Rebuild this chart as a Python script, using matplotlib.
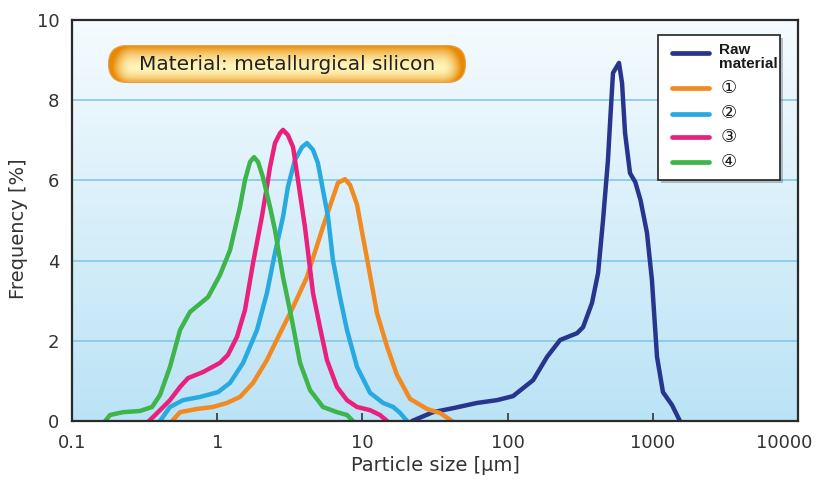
import numpy as np
import matplotlib
matplotlib.use("Agg")
import matplotlib.pyplot as plt
from matplotlib.patches import FancyBboxPatch, Rectangle
from matplotlib.lines import Line2D
from matplotlib.transforms import ScaledTranslation

# ---------------- data ----------------
raw_x = [22.0, 30.6, 42.1, 61.5, 84.5, 109, 150, 187, 230, 301, 331, 381, 420, 454,
         491, 507, 532, 585, 614, 644, 697, 757, 823, 912, 986, 1069, 1175, 1355, 1538]
raw_y = [0.0, 0.22, 0.32, 0.45, 0.52, 0.62, 1.02, 1.6, 2.02, 2.19, 2.34, 2.94, 3.69, 5.0,
         6.5, 7.4, 8.68, 8.93, 8.43, 7.18, 6.18, 5.96, 5.51, 4.69, 3.52, 1.6, 0.72, 0.4, 0.0]

s1_x = [0.489, 0.555, 0.726, 0.935, 1.167, 1.436, 1.766, 2.20, 2.71, 3.33, 4.15, 5.35,
        6.18, 6.79, 7.59, 8.22, 9.18, 9.9, 10.9, 12.6, 14.8, 17.3, 21.3, 27.9, 34.2, 41.4]
s1_y = [0.0, 0.22, 0.30, 0.35, 0.45, 0.60, 0.95, 1.52, 2.19, 2.84, 3.59, 4.84,
        5.51, 5.94, 6.03, 5.89, 5.40, 4.75, 3.94, 2.69, 1.85, 1.15, 0.55, 0.30, 0.20, 0.0]

s2_x = [0.404, 0.473, 0.581, 0.762, 1.013, 1.225, 1.508, 1.88, 2.20, 2.50, 2.84, 3.07,
        3.43, 3.84, 4.15, 4.57, 4.94, 5.35, 5.80, 6.27, 7.01, 7.83, 9.18, 11.3, 13.9,
        16.3, 18.2, 20.3]
s2_y = [0.0, 0.35, 0.52, 0.60, 0.72, 0.95, 1.45, 2.27, 3.19, 4.19, 5.09, 5.84,
        6.51, 6.83, 6.93, 6.76, 6.43, 5.76, 5.09, 4.01, 3.09, 2.27, 1.35, 0.70, 0.45,
        0.35, 0.20, 0.0]

s3_x = [0.339, 0.404, 0.473, 0.555, 0.630, 0.798, 1.045, 1.186, 1.369, 1.554, 1.766, 2.03,
        2.20, 2.31, 2.50, 2.71, 2.84, 3.07, 3.33, 3.60, 4.02, 4.57, 5.10, 5.70, 6.68,
        7.83, 9.18, 11.3, 13.2, 14.8]
s3_y = [0.0, 0.27, 0.52, 0.85, 1.07, 1.22, 1.45, 1.65, 2.10, 2.77, 3.94, 5.09,
        5.84, 6.33, 6.93, 7.18, 7.26, 7.13, 6.83, 6.01, 4.84, 3.19, 2.34, 1.52, 0.85,
        0.52, 0.35, 0.27, 0.15, 0.0]

s4_x = [0.169, 0.183, 0.224, 0.294, 0.356, 0.404, 0.473, 0.555, 0.650, 0.865, 1.045, 1.225,
        1.436, 1.554, 1.683, 1.792, 1.911, 2.066, 2.31, 2.50, 2.84, 3.27, 3.72, 4.36,
        5.35, 6.68, 7.83, 8.61]
s4_y = [0.0, 0.15, 0.22, 0.25, 0.35, 0.65, 1.35, 2.27, 2.72, 3.09, 3.64, 4.26,
        5.34, 6.01, 6.46, 6.58, 6.46, 6.08, 5.34, 4.76, 3.59, 2.52, 1.45, 0.77,
        0.35, 0.22, 0.15, 0.0]

series_labels = ["Raw\nmaterial", "\u2460", "\u2461", "\u2462", "\u2463"]
series_colors = ["#28358c", "#f28a22", "#28aae1", "#e9217c", "#3db54a"]

x_ticks = [0.1, 1, 10, 100, 1000, 10000]
x_ticklabels = ["0.1", "1", "10", "100", "1000", "10000"]
y_ticks = [0, 2, 4, 6, 8, 10]

title_text = "Material: metallurgical silicon"
x_label = "Particle size [\u03bcm]"
y_label = "Frequency [%]"

# ---------------- figure ----------------
W, H = 818, 484
fig = plt.figure(figsize=(W / 100, H / 100), dpi=100)
ax_l, ax_r, ax_t, ax_b = 72, 798, 20, 421
ax = fig.add_axes([ax_l / W, (H - ax_b) / H, (ax_r - ax_l) / W, (ax_b - ax_t) / H])

# background gradient
grad = np.linspace(0, 1, 256).reshape(-1, 1)
top = np.array([0xf5, 0xfb, 0xfe]) / 255
bot = np.array([0xbb, 0xe3, 0xf6]) / 255
img = top[None, None, :] * (1 - grad[..., None]) + bot[None, None, :] * grad[..., None]
ax.imshow(img, extent=[0, 1, 0, 1], transform=ax.transAxes, aspect="auto",
          zorder=0, origin="upper")

ax.set_xscale("log")
ax.set_xlim(0.1, 10000)
ax.set_ylim(0, 10)

for yv in y_ticks[1:-1]:
    ax.axhline(yv, color="#84c7e6", lw=1.2, zorder=1)

xs = [raw_x, s1_x, s2_x, s3_x, s4_x]
ys = [raw_y, s1_y, s2_y, s3_y, s4_y]
for i in range(5):
    ax.plot(xs[i], ys[i], color=series_colors[i], lw=3.2, solid_joinstyle="round",
            solid_capstyle="round", zorder=3)

ax.set_xticks(x_ticks)
ax.set_xticklabels(x_ticklabels)
ax.minorticks_off()
ax.set_yticks(y_ticks)
ax.tick_params(axis="x", direction="in", length=6, width=1.2, color="#333333",
               labelsize=13, labelcolor="#333333", pad=9)
ax.tick_params(axis="y", length=0, labelsize=13, labelcolor="#333333", pad=9)
# last x label shifted left so it stays inside the figure (as in the reference)
last = ax.get_xticklabels()[-1]
last.set_transform(last.get_transform() + ScaledTranslation(-14 / 100, 0, fig.dpi_scale_trans))

for sp in ax.spines.values():
    sp.set_linewidth(1.6)
    sp.set_color("#2a2a2a")
    sp.set_zorder(5)

ax.set_xlabel(x_label, fontsize=14, color="#333333", labelpad=3)
ax.set_ylabel(y_label, fontsize=14, color="#333333")
ax.yaxis.set_label_coords(-0.060, 0.48)

# ---------------- legend (manual) ----------------
def fx(px):
    return (px - ax_l) / (ax_r - ax_l)

def fy(py):
    return (ax_b - py) / (ax_b - ax_t)

shadow = Rectangle((fx(661), fy(183)), fx(783) - fx(661), fy(38) - fy(183),
                   transform=ax.transAxes, facecolor="#555555", alpha=0.35,
                   edgecolor="none", zorder=6)
ax.add_patch(shadow)
box = Rectangle((fx(658), fy(180)), fx(780) - fx(658), fy(35) - fy(180),
                transform=ax.transAxes, facecolor="white", edgecolor="#222222",
                lw=1.2, zorder=7)
ax.add_patch(box)

line_py = [53, 88, 114, 137, 162]
text_py = [57, 88, 113, 137, 162]
for i in range(5):
    ax.add_line(Line2D([fx(672), fx(709)], [fy(line_py[i])] * 2, transform=ax.transAxes,
                       color=series_colors[i], lw=3.4, solid_capstyle="round", zorder=8))
    if i == 0:
        ax.text(fx(719), fy(text_py[i]), series_labels[i], transform=ax.transAxes,
                fontsize=11, fontweight="bold", va="center", ha="left",
                linespacing=1.05, color="#1a1a1a",
                family=["Liberation Sans Narrow", "Liberation Sans", "DejaVu Sans"],
                zorder=9)
    else:
        ax.text(fx(721), fy(text_py[i]), series_labels[i], transform=ax.transAxes,
                fontsize=13, va="center", ha="left", color="#1a1a1a",
                family=["DejaVu Sans", "Noto Sans CJK JP"], zorder=9)

# ---------------- title pill ----------------
px0, px1, py0, py1 = 108, 466, 45, 83
pw, ph = px1 - px0, py1 - py0
pax = fig.add_axes([px0 / W, (H - py1) / H, pw / W, ph / H])
pax.set_xlim(0, pw)
pax.set_ylim(0, ph)
pax.axis("off")
r = ph / 2
gx, gy = np.meshgrid(np.linspace(0, pw, 400), np.linspace(0, ph, 60))
cx = np.clip(gx, r + 4, pw - r - 4)
cy = ph * 0.40
dy = np.where(gy > cy, (gy - cy) / (ph - cy), (cy - gy) / cy * 0.85)
dx = np.abs(gx - cx) / r
d = np.sqrt(dx ** 2 + dy ** 2)
t = np.clip(d, 0, 1) ** 1.8
light = np.array([0xff, 0xf4, 0xb8]) / 255
dark = np.array([0xe8, 0x8a, 0x06]) / 255
pimg = light[None, None, :] * (1 - t[..., None]) + dark[None, None, :] * t[..., None]
im = pax.imshow(pimg, extent=[0, pw, 0, ph], origin="lower", aspect="auto", zorder=1)
pill = FancyBboxPatch((0.5, 0.5), pw - 1, ph - 1,
                      boxstyle=f"round,pad=0,rounding_size={r - 0.5}",
                      facecolor="none", edgecolor="#e7a248", lw=0.8, zorder=2)
pax.add_patch(pill)
im.set_clip_path(pill)
pax.text(pw / 2, ph / 2 - 0.5, title_text, fontsize=14.5, ha="center", va="center",
         color="#222222", family=["DejaVu Sans"], zorder=3)

fig.savefig("out.png", dpi=100)
